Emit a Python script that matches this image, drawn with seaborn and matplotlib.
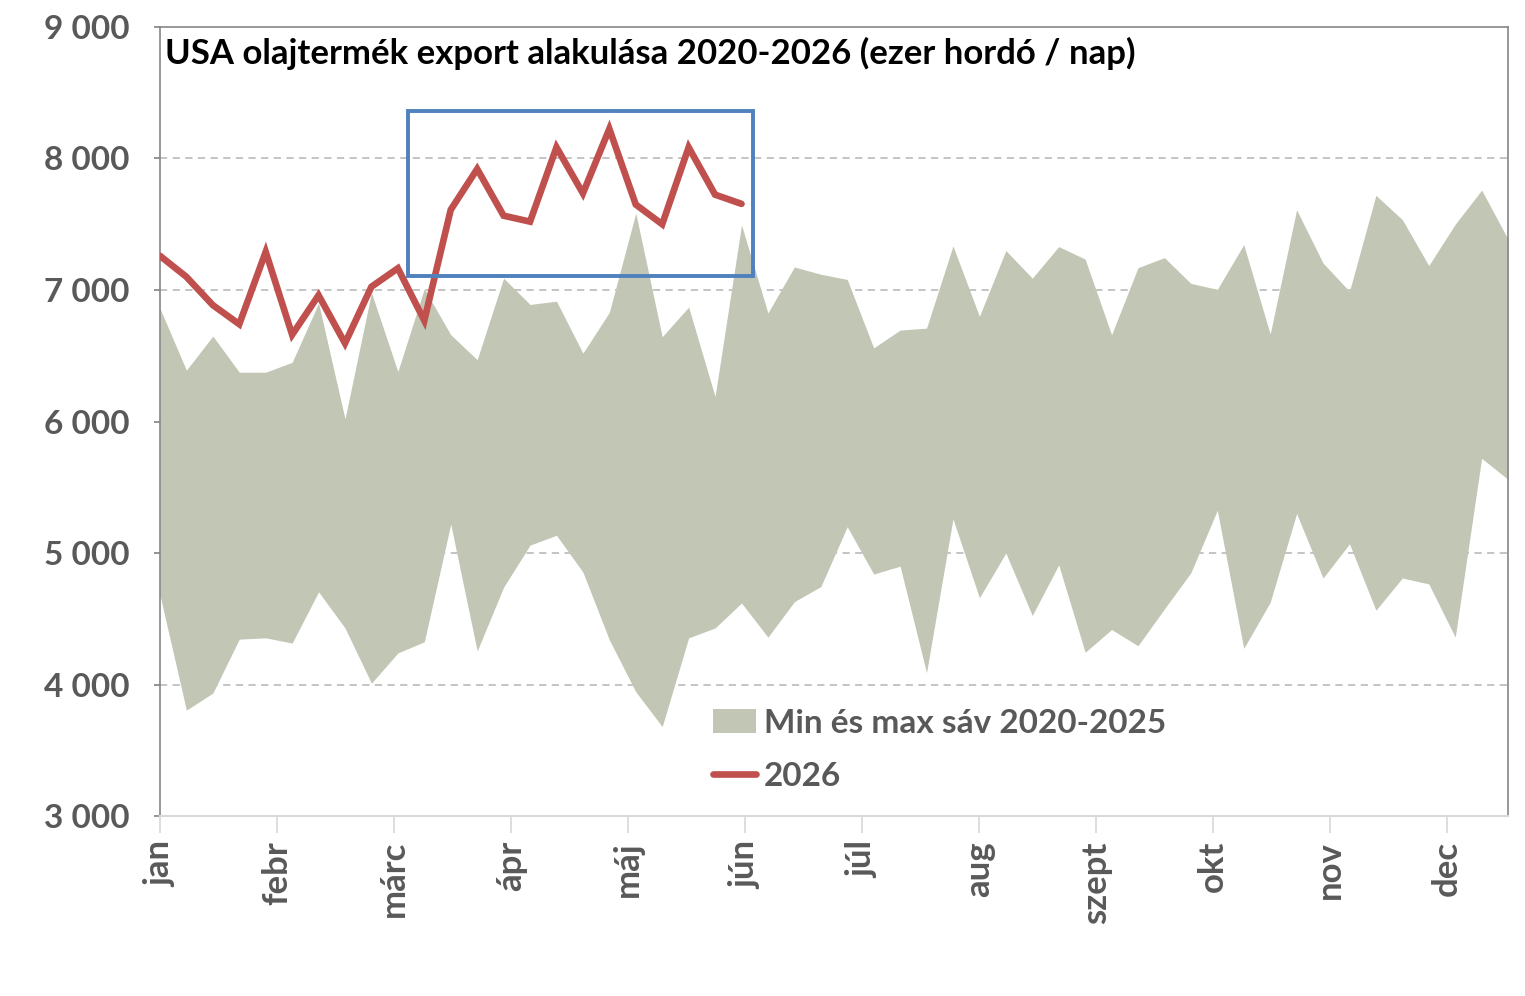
import numpy as np
import pandas as pd
import matplotlib
matplotlib.use('Agg')
import matplotlib.pyplot as plt
from matplotlib.patches import Patch, Rectangle
from matplotlib.lines import Line2D
import seaborn as sns

sns.set_theme(style='white')
plt.rcParams['font.family'] = ['Lato', 'DejaVu Sans']

# heti adatok (ezer hordó / nap)
band_max = [6860, 6390, 6650, 6375, 6375, 6450, 6900, 6020, 6980, 6380,
            7010, 6660, 6470, 7090, 6890, 6915, 6520, 6830, 7585, 6645,
            6870, 6190, 7495, 6825, 7175, 7120, 7080, 6560, 6695, 6710,
            7335, 6800, 7300, 7090, 7330, 7235, 6660, 7170, 7246, 7050,
            7005, 7345, 6665, 7610, 7205, 6990, 7720, 7535, 7186, 7500,
            7760, 7385]
band_min = [4680, 3805, 3935, 4345, 4355, 4315, 4705, 4430, 4010, 4240,
            4325, 5220, 4255, 4740, 5060, 5135, 4855, 4340, 3945, 3680,
            4355, 4430, 4620, 4360, 4630, 4745, 5200, 4840, 4900, 4090,
            5260, 4660, 5000, 4525, 4910, 4245, 4418, 4295, 4575, 4850,
            5325, 4275, 4625, 5300, 4810, 5070, 4565, 4810, 4765, 4360,
            5720, 5560]
y2026 = [7260, 7100, 6885, 6740, 7290, 6660, 6960, 6595, 7025, 7165,
         6768, 7610, 7920, 7565, 7520, 8085, 7735, 8225, 7650, 7500,
         8085, 7725, 7655]
months = ['jan', 'febr', 'márc', 'ápr', 'máj', 'jún', 'júl', 'aug',
          'szept', 'okt', 'nov', 'dec']

weeks = np.arange(len(band_max))
df26 = pd.DataFrame({'het': np.arange(len(y2026)), 'ertek': y2026})

fig = plt.figure(figsize=(15.25, 9.96), dpi=100)
ax = fig.add_axes([0.1049, 0.1807, 0.8840, 0.7922])

gray_txt = '#595959'
band_col = '#C2C6B4'
red = '#C0504D'

ax.fill_between(weeks, band_min, band_max, color=band_col, linewidth=0, zorder=2)
sns.lineplot(data=df26, x='het', y='ertek', ax=ax, color=red, linewidth=4.8,
             solid_joinstyle='miter', solid_capstyle='round', zorder=4, legend=False)

# kiemelő keret
ax.add_patch(Rectangle((9.38, 7106), 22.44 - 9.38, 8361 - 7106, fill=False,
                       edgecolor='#4F81BD', linewidth=2.8, zorder=5))

ax.set_xlim(0, 51)
ax.set_ylim(3000, 9000)
ax.set_yticks(range(3000, 9001, 1000))
ax.set_yticklabels([f'{v // 1000} 000' for v in range(3000, 9001, 1000)])
month_step = 4.427
ax.set_xticks(np.arange(12) * month_step)
ax.set_xticklabels(months, rotation=90)
ax.set_xlabel('')
ax.set_ylabel('')

for y in range(4000, 8001, 1000):
    ax.axhline(y, color='#BFBFBF', linestyle=(0, (4, 3)), linewidth=1.3, zorder=1)

ax.tick_params(axis='y', labelsize=24, labelcolor=gray_txt, length=4,
               color='#868686', direction='out', left=True, pad=18)
ax.tick_params(axis='x', labelsize=25, labelcolor=gray_txt, length=12,
               color='#D9D9D9', direction='out', bottom=True, pad=6)
for lab in ax.get_xticklabels() + ax.get_yticklabels():
    lab.set_fontweight('bold')

for s in ['left', 'right', 'top']:
    ax.spines[s].set_color('#868686')
    ax.spines[s].set_linewidth(1.2)
ax.spines['bottom'].set_color('#D9D9D9')
ax.spines['bottom'].set_linewidth(1.5)

ax.text(0.004, 0.988, 'USA olajtermék export alakulása 2020-2026 (ezer hordó / nap)',
        transform=ax.transAxes, ha='left', va='top', fontsize=25,
        fontweight='bold', color='black')

handles = [Patch(facecolor=band_col, edgecolor='none'),
           Line2D([0], [0], color=red, linewidth=4.8)]
leg = ax.legend(handles, ['Min és max sáv 2020-2025', '2026'],
                loc='upper left', bbox_to_anchor=(0.4, 0.153), frameon=False,
                fontsize=24, handlelength=1.3, handletextpad=0.25,
                labelspacing=0.72, borderaxespad=0)
for t in leg.get_texts():
    t.set_color(gray_txt)
    t.set_fontweight('bold')

fig.savefig('out.png', dpi=100)
